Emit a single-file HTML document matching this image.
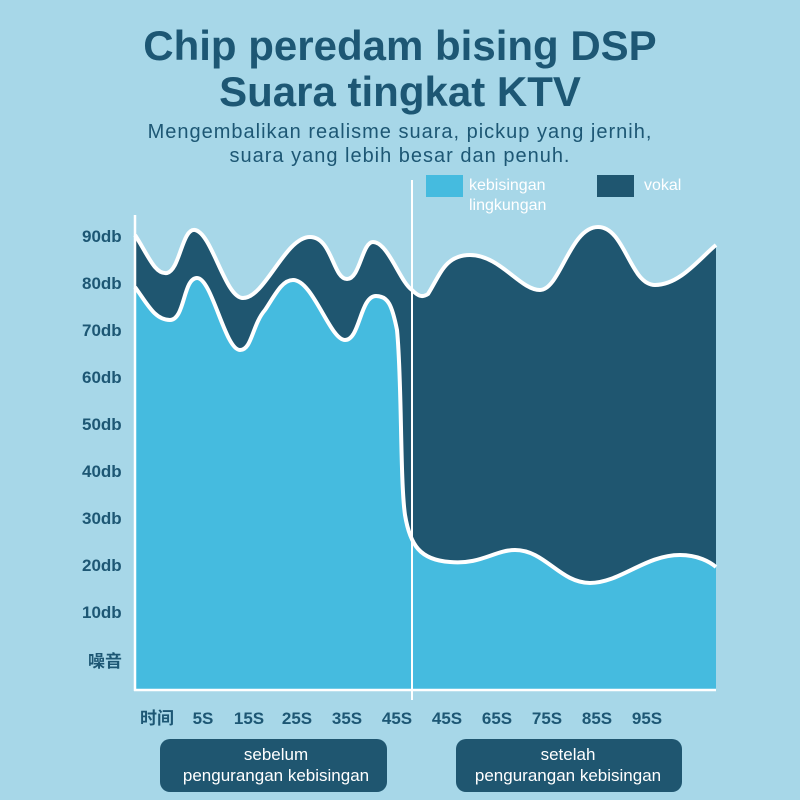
<!DOCTYPE html>
<html><head><meta charset="utf-8"><style>
body{margin:0;width:800px;height:800px;background:#a7d7e8;overflow:hidden}
svg{display:block}
.t{font-family:"Liberation Sans","Noto Sans CJK SC",sans-serif}
</style></head><body>
<svg width="800" height="800" viewBox="0 0 800 800" class="t">
<rect width="800" height="800" fill="#a7d7e8"/>
<text x="400" y="60" text-anchor="middle" font-size="42" font-weight="bold" fill="#1d5774">Chip peredam bising DSP</text>
<text x="400" y="106" text-anchor="middle" font-size="42" font-weight="bold" fill="#1d5774">Suara tingkat KTV</text>
<text x="400" y="138" text-anchor="middle" font-size="20" letter-spacing="1" fill="#1d5774">Mengembalikan realisme suara, pickup yang jernih,</text>
<text x="400" y="162" text-anchor="middle" font-size="20" letter-spacing="1" fill="#1d5774">suara yang lebih besar dan penuh.</text>
<rect x="426" y="175" width="37" height="22" fill="#45bbdf"/>
<text x="469" y="190" font-size="16" fill="#fff">kebisingan</text>
<text x="469" y="210" font-size="16" fill="#fff">lingkungan</text>
<rect x="597" y="175" width="37" height="22" fill="#1f5670"/>
<text x="644" y="190" font-size="16" fill="#fff">vokal</text>
<path d="M135,235 C148,255 155,275 167,273 C180,270 182,228 195,230 C212,233 225,298 243,298 C265,298 285,237 310,237 C332,237 333,279 347,279 C360,279 362,242 373,242 C388,242 400,282 412,290 C418,296 422,298 428,294 C440,275 445,255 470,255 C500,255 520,290 540,290 C560,290 570,227 598,227 C625,227 630,285 655,285 C680,285 700,258 716,245 L716,690 L135,690 Z" fill="#1f5670"/>
<path d="M135,235 C148,255 155,275 167,273 C180,270 182,228 195,230 C212,233 225,298 243,298 C265,298 285,237 310,237 C332,237 333,279 347,279 C360,279 362,242 373,242 C388,242 400,282 412,290 C418,296 422,298 428,294 C440,275 445,255 470,255 C500,255 520,290 540,290 C560,290 570,227 598,227 C625,227 630,285 655,285 C680,285 700,258 716,245" fill="none" stroke="#fff" stroke-width="4"/>
<path d="M135,287 C148,305 155,320 170,320 C185,320 183,278 197,278 C212,278 225,350 240,350 C252,350 252,325 265,310 C275,295 282,280 293,280 C313,280 330,340 345,340 C360,340 360,296 376,296 C388,296 392,305 397,330 C402,380 400,480 405,515 C410,545 420,560 450,562 C480,565 495,550 515,550 C545,550 560,583 590,583 C620,583 645,555 680,555 C698,555 710,562 716,567 L716,690 L135,690 Z" fill="#45bbdf"/>
<path d="M135,287 C148,305 155,320 170,320 C185,320 183,278 197,278 C212,278 225,350 240,350 C252,350 252,325 265,310 C275,295 282,280 293,280 C313,280 330,340 345,340 C360,340 360,296 376,296 C388,296 392,305 397,330 C402,380 400,480 405,515 C410,545 420,560 450,562 C480,565 495,550 515,550 C545,550 560,583 590,583 C620,583 645,555 680,555 C698,555 710,562 716,567" fill="none" stroke="#fff" stroke-width="4"/>
<line x1="135" y1="215" x2="135" y2="691" stroke="#fff" stroke-width="2.5"/>
<line x1="134" y1="690" x2="716" y2="690" stroke="#fff" stroke-width="2.5"/>
<line x1="412" y1="180" x2="412" y2="700" stroke="#fff" stroke-width="2"/>
<g font-size="17" font-weight="bold" fill="#1d5774">
<text x="82" y="242">90db</text><text x="82" y="289">80db</text><text x="82" y="336">70db</text>
<text x="82" y="383">60db</text><text x="82" y="430">50db</text><text x="82" y="477">40db</text>
<text x="82" y="524">30db</text><text x="82" y="571">20db</text><text x="82" y="618">10db</text>
<text x="88" y="667">噪音</text>
</g>
<g font-size="17" font-weight="bold" fill="#1d5774" text-anchor="middle">
<text x="157" y="724">时间</text><text x="203" y="724">5S</text><text x="249" y="724">15S</text>
<text x="297" y="724">25S</text><text x="347" y="724">35S</text><text x="397" y="724">45S</text>
<text x="447" y="724">45S</text><text x="497" y="724">65S</text><text x="547" y="724">75S</text>
<text x="597" y="724">85S</text><text x="647" y="724">95S</text>
</g>
<rect x="160" y="739" width="227" height="53" rx="10" fill="#1f5670"/>
<rect x="456" y="739" width="226" height="53" rx="10" fill="#1f5670"/>
<g font-size="17" fill="#fff" text-anchor="middle">
<text x="276" y="760">sebelum</text><text x="276" y="781">pengurangan kebisingan</text>
<text x="568" y="760">setelah</text><text x="568" y="781">pengurangan kebisingan</text>
</g>
</svg>
</body></html>
